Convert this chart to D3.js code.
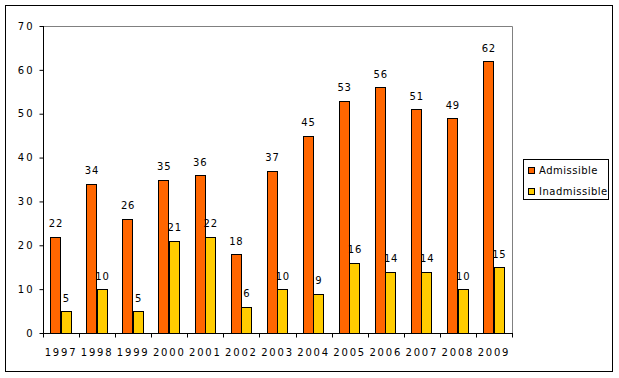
<!DOCTYPE html>
<html>
<head>
<meta charset="utf-8">
<script src="https://cdn.jsdelivr.net/npm/d3@7"></script>
<style>
  body { margin: 0; background: #fff; }
  text { font-family: "DejaVu Sans", Verdana, sans-serif; fill: #000; }
</style>
</head>
<body>
<svg id="chart" width="619" height="378"></svg>
<script>
const years = ["1997","1998","1999","2000","2001","2002","2003","2004","2005","2006","2007","2008","2009"];
const admissible = [22,34,26,35,36,18,37,45,53,56,51,49,62];
const inadmissible = [5,10,5,21,22,6,10,9,16,14,14,10,15];
const seriesNames = ["Admissible","Inadmissible"];
const seriesColors = ["#FF6600","#FFCC00"];
const yTicks = [0,10,20,30,40,50,60,70];

const svg = d3.select("#chart");
const pLeft = 43, pRight = 512, pTop = 26, pBottom = 333;

// outer frame
svg.append("rect").attr("x",5.5).attr("y",5.5).attr("width",607).attr("height",366)
  .attr("fill","#fff").attr("stroke","#000").attr("stroke-width",1);

const x = d3.scaleBand().domain(years).range([pLeft, pRight]).padding(0);
const y = d3.scaleLinear().domain([0,70]).range([pBottom, pTop]);

// plot area border (gray top and right)
svg.append("path")
  .attr("d", `M${pLeft},${pTop+0.5}H${pRight+0.5}V${pBottom}`)
  .attr("fill","none").attr("stroke","#808080").attr("stroke-width",1);

const bw = x.bandwidth();
const barW = bw * 0.29;
const off = bw * 0.2;
const series = [admissible, inadmissible];

series.forEach((vals, si) => {
  const g = svg.append("g");
  g.selectAll("rect").data(vals).join("rect")
    .attr("x", (d,i) => Math.round(x(years[i]) + off + si*barW) + 0.5)
    .attr("y", d => Math.round(y(d)) + 0.5)
    .attr("width", Math.round(barW))
    .attr("height", d => pBottom - Math.round(y(d)))
    .attr("fill", seriesColors[si])
    .attr("stroke", "#000").attr("stroke-width", 1);
  g.selectAll("text").data(vals).join("text")
    .attr("x", (d,i) => x(years[i]) + off + si*barW + barW/2 + 0.5)
    .attr("y", d => y(d) - 9.5)
    .attr("text-anchor","middle")
    .attr("font-size","10px")
    .attr("letter-spacing","0.8px")
    .text(d => d);
});

// y axis
const yAxis = d3.axisLeft(y).tickValues(yTicks).tickSize(4).tickPadding(7);
const ya = svg.append("g").attr("transform",`translate(${pLeft+0.5},0)`).call(yAxis);
ya.select(".domain").attr("d", `M0,${pTop}V${pBottom+4}`).attr("stroke","#000");
ya.selectAll("text").attr("font-size","10px").attr("letter-spacing","2px")
  .attr("font-family","DejaVu Sans, Verdana, sans-serif").attr("dx","2px");

// x axis
const xAxis = d3.axisBottom(x).tickSize(0).tickPadding(15);
const xa = svg.append("g").attr("transform",`translate(0,${pBottom+0.5})`).call(xAxis);
xa.select(".domain").attr("d", `M${pLeft},0H${pRight}`).attr("stroke","#000");
xa.selectAll("text").attr("font-size","10px").attr("letter-spacing","1.8px")
  .attr("font-family","DejaVu Sans, Verdana, sans-serif");
// band boundary ticks
const boundaries = years.map(d => x(d)).concat([pRight]);
svg.append("g").selectAll("line").data(boundaries).join("line")
  .attr("x1", d => Math.round(d)+0.5).attr("x2", d => Math.round(d)+0.5)
  .attr("y1", pBottom).attr("y2", pBottom+4.5)
  .attr("stroke","#000");

// legend
const lg = svg.append("g");
lg.append("rect").attr("x",523.5).attr("y",159.5).attr("width",85).attr("height",40)
  .attr("fill","#fff").attr("stroke","#000");
seriesNames.forEach((name, i) => {
  const yy = 167 + i*20.5;
  lg.append("rect").attr("x",528.5).attr("y",Math.round(yy)+0.5).attr("width",6).attr("height",6)
    .attr("fill",seriesColors[i]).attr("stroke","#000");
  lg.append("text").attr("x",539).attr("y",Math.round(yy)+7)
    .attr("font-size","10px").attr("letter-spacing","0.5px").text(name);
});
</script>
</body>
</html>
